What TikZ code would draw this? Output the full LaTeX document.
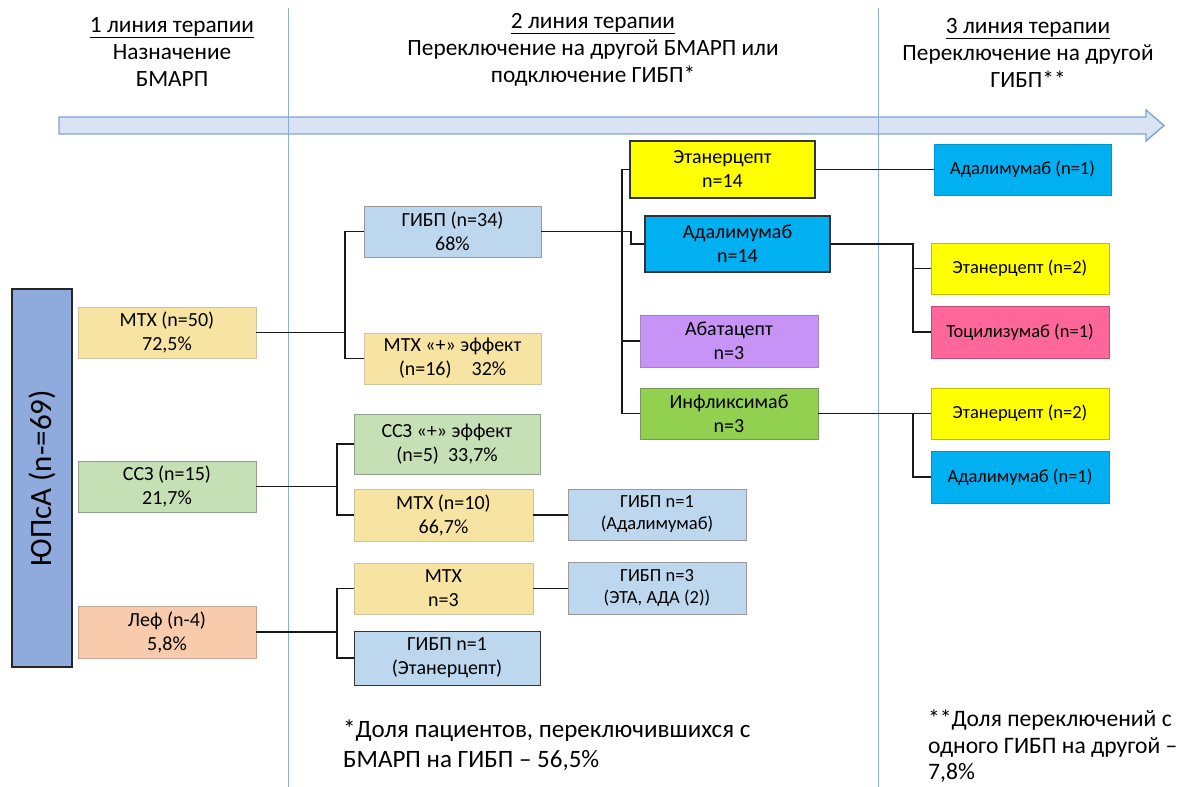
\documentclass[tikz,border=0pt]{standalone}
\usepackage{fontspec}
\setmainfont{Carlito}
\definecolor{axisline}{HTML}{8FAADC}
\definecolor{arrowfill}{HTML}{DAE3F3}
\definecolor{arrowedge}{HTML}{7FA4D6}
\definecolor{patient}{HTML}{8FAADC}
\definecolor{paleyellow}{HTML}{F7E3A2}
\definecolor{palegreen}{HTML}{C5E0B4}
\definecolor{palepeach}{HTML}{F8CBAD}
\definecolor{paleblue}{HTML}{BDD7EE}
\definecolor{brightyellow}{HTML}{FFFF00}
\definecolor{brightcyan}{HTML}{00B0F0}
\definecolor{lilac}{HTML}{C893F7}
\definecolor{grassgreen}{HTML}{92D050}
\definecolor{rosepink}{HTML}{FF6699}
\begin{document}
\begin{tikzpicture}[x=1pt,y=-1pt,
  box/.style={draw, line width=0.9pt, align=center, inner sep=0pt,
    font=\fontsize{20}{24}\selectfont},
  smallbox/.style={box, font=\fontsize{18.5}{22}\selectfont},
  softyellow/.style={fill=paleyellow, draw=paleyellow!75!black!70},
  softgreen/.style={fill=palegreen, draw=palegreen!60!black!80},
  softpeach/.style={fill=palepeach, draw=palepeach!70!black!80},
  softblue/.style={fill=paleblue, draw=gray!80},
  strongyellow/.style={fill=brightyellow, draw=black!80, line width=1.1pt},
  strongcyan/.style={fill=brightcyan, draw=black!80, line width=1.1pt},
  link/.style={line width=1.8pt, draw=black!90},
  header/.style={align=center, font=\fontsize{23.3}{27}\selectfont, inner sep=0pt, anchor=north},
  note/.style={align=left, font=\fontsize{25}{30}\selectfont, inner sep=0pt, anchor=north west}
]
\useasboundingbox (0,0) rectangle (1186,787);

% timeline arrow
\path[fill=arrowfill, draw=arrowedge, line width=1.4pt]
  (59,117) -- (1146,117) -- (1146,110) -- (1164,125.5) -- (1146,141) -- (1146,134) -- (59,134) -- cycle;

% column separators
\draw[axisline, line width=1pt] (288,8) -- (288,787);
\draw[axisline, line width=1pt] (878,8) -- (878,787);

% column headings
\node[header] (h1) at (172,17) {\underline{1 линия терапии}\\Назначение\\БМАРП};
\node[header] (h2) at (593,13) {\underline{2 линия терапии}\\Переключение на другой БМАРП или\\подключение ГИБП*};
\node[header] (h3) at (1028,18) {\underline{3 линия терапии}\\Переключение на другой\\ГИБП**};

% patients
\node[draw=black!85, line width=1.4pt, fill=patient, minimum width=60pt, minimum height=378pt, inner sep=0pt]
  (pts) at (42,478) {};
\node[rotate=90, font=\fontsize{31}{36}\selectfont, inner sep=0pt] (ptslabel) at (pts.center) {ЮПсА (n-=69)};

% first line
\node[box, softyellow, minimum width=178pt, minimum height=51pt] (mtx50) at (167,332.5) {МТХ (n=50)\\72,5\%};
\node[box, softgreen, minimum width=178pt, minimum height=51pt] (ssz15) at (167,486.5) {ССЗ (n=15)\\21,7\%};
\node[box, softpeach, minimum width=178pt, minimum height=52pt] (lef) at (167,632) {Леф (n-4)\\5,8\%};

% second line
\node[box, softblue, minimum width=177pt, minimum height=51pt] (gibp34) at (452.5,231.5) {ГИБП (n=34)\\68\%};
\node[box, softyellow, minimum width=177pt, minimum height=51pt] (mtxplus) at (452.5,358.5) {МТХ «+» эффект\\(n=16)\quad32\%};
\node[box, softgreen, minimum width=186pt, minimum height=60pt] (sszplus) at (447,444) {ССЗ «+» эффект\\(n=5)\ \ 33,7\%};
\node[box, softyellow, minimum width=179pt, minimum height=52pt] (mtx10) at (443.5,515) {МТХ (n=10)\\66,7\%};
\node[box, softyellow, minimum width=179pt, minimum height=51pt] (mtx3) at (443.5,588.5) {МТХ\\n=3};
\node[box, softblue, draw=black!80, minimum width=186pt, minimum height=54pt] (gibpeta) at (447,658) {ГИБП n=1\\(Этанерцепт)};
\node[smallbox, softblue, minimum width=178pt, minimum height=51pt] (gibpada) at (657,514.5) {ГИБП n=1\\(Адалимумаб)};
\node[smallbox, softblue, minimum width=178pt, minimum height=52pt] (gibp3) at (657,588) {ГИБП n=3\\(ЭТА, АДА (2))};

\node[box, strongyellow, minimum width=185pt, minimum height=57pt] (eta14) at (722.5,169.5) {Этанерцепт\\n=14};
\node[box, strongcyan, minimum width=185pt, minimum height=56pt] (ada14) at (737.5,244) {Адалимумаб\\n=14};
\node[box, fill=lilac, draw=lilac!70!black!80, minimum width=178pt, minimum height=52pt] (abata) at (729,341) {Абатацепт\\n=3};
\node[box, fill=grassgreen, draw=grassgreen!60!black!80, minimum width=178pt, minimum height=51pt] (infl) at (729,413.5) {Инфликсимаб\\n=3};

% third line
\node[smallbox, fill=brightcyan, draw=brightcyan!85!black, minimum width=177pt, minimum height=51pt] (ada1a) at (1022.5,169.5) {Адалимумаб (n=1)};
\node[smallbox, fill=brightyellow, draw=brightyellow!75!black, minimum width=178pt, minimum height=51pt] (eta2a) at (1020,268.5) {Этанерцепт (n=2)};
\node[smallbox, fill=rosepink, draw=rosepink!75!black, minimum width=178pt, minimum height=52pt] (toci) at (1020,332) {Тоцилизумаб (n=1)};
\node[smallbox, fill=brightyellow, draw=brightyellow!75!black, minimum width=178pt, minimum height=51pt] (eta2b) at (1020,413.5) {Этанерцепт (n=2)};
\node[smallbox, fill=brightcyan, draw=brightcyan!85!black, minimum width=178pt, minimum height=52pt] (ada1b) at (1020,477) {Адалимумаб (n=1)};

% branch points
\coordinate (bmtx) at (345,332.5);
\coordinate (bssz) at (337,486.5);
\coordinate (blef) at (337,632);
\coordinate (bgibp) at (622,231.5);
\coordinate (bada) at (913,244);
\coordinate (binf) at (913,413.5);

% connectors, first to second line
\draw[link] (mtx50.east) -- (bmtx);
\draw[link] (gibp34.west) -- (gibp34.west -| bmtx) -- (mtxplus.west -| bmtx) -- (mtxplus.west);
\draw[link] (ssz15.east) -- (bssz);
\draw[link] (sszplus.west) -- (sszplus.west -| bssz) -- (mtx10.west -| bssz) -- (mtx10.west);
\draw[link] (lef.east) -- (blef);
\draw[link] (mtx3.west) -- (mtx3.west -| blef) -- (gibpeta.west -| blef) -- (gibpeta.west);
\draw[link] (mtx10.east) -- (gibpada.west |- mtx10.east);
\draw[link] (mtx3.east) -- (gibp3.west |- mtx3.east);

% connectors, biologics
\draw[link] (gibp34.east) -- (bgibp) -- (631,231.5) -- (631,244) -- (ada14.west);
\draw[link] (eta14.west) -- (eta14.west -| bgibp) -- (infl.west -| bgibp) -- (infl.west);
\draw[link] (abata.west) -- (abata.west -| bgibp);

% connectors, third line
\draw[link] (eta14.east) -- (ada1a.west);
\draw[link] (ada14.east) -- (bada) -- (toci.west -| bada) -- (toci.west);
\draw[link] (eta2a.west) -- (eta2a.west -| bada);
\draw[link] (infl.east) -- (binf) -- (ada1b.west -| binf) -- (ada1b.west);
\draw[link] (eta2b.west) -- (eta2b.west -| binf);

% footnotes
\node[note] (fn1) at (343,720) {*Доля пациентов, переключившихся с\\БМАРП на ГИБП – 56,5\%};
\node[note, font=\fontsize{23.6}{26.5}\selectfont] (fn2) at (928,710) {**Доля переключений с\\одного ГИБП на другой –\\7,8\%};
\end{tikzpicture}
\end{document}
